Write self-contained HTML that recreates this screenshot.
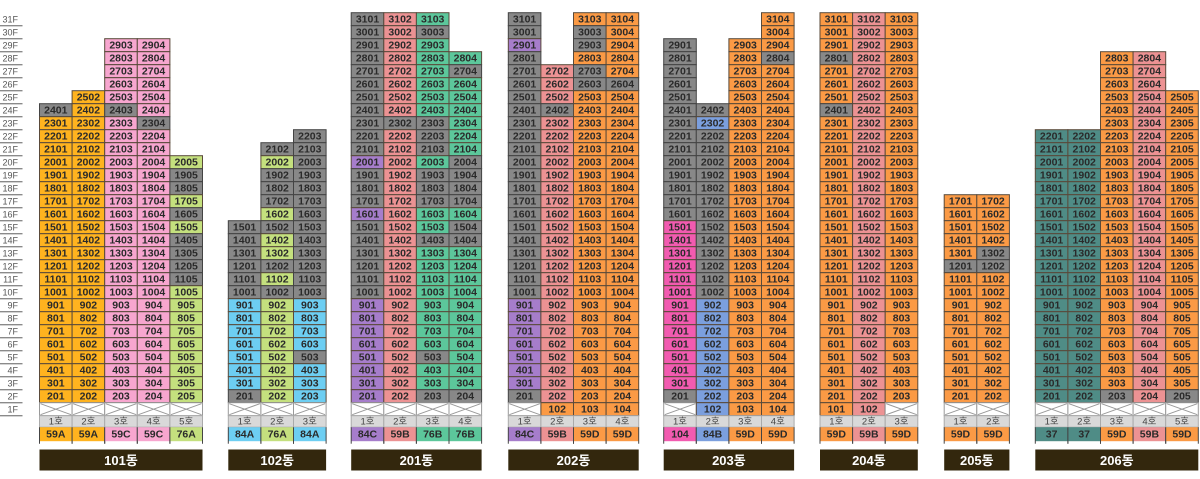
<!DOCTYPE html>
<html><head><meta charset="utf-8">
<style>
html,body{margin:0;padding:0;background:#fff;}
svg{display:block;}
text{font-family:"Liberation Sans","Noto Sans CJK KR",sans-serif;}
</style></head>
<body>
<svg id="chart" width="1200" height="479" viewBox="0 0 1200 479" xmlns="http://www.w3.org/2000/svg"></svg>
<script>
const buildingNames = ['101동','102동','201동','202동','203동','204동','205동','206동'];
const buildingX = [39.5, 228.3, 351.2, 508.3, 663.7, 820, 944.2, 1035.3];
const buildingCols = [5,3,4,4,4,3,2,5];
const buildingTop = [29,22,31,31,31,31,17,28];
const colorGrids = [
 ['..PP.','..PP.','..PP.','..PP.','.OPP.','GOGP.','OOPG.','OOPP.','OOPP.','OOPPL','OOPPG','OOPPG','OOPPL','OOPPG','OOPPL','OOPPG','OOPPG','OOPPG','OOPPG','OOPPL','OOPPL','OOPPL','OOPPL','OOPPL','OOPPL','OOPPL','OOPPL','OOPPL'],
 ['..G','.GG','.LG','.GG','.GG','.GG','.LG','GGG','GLG','GLG','GGG','GLG','GGG','BLB','BLB','BLB','BLB','BLG','BLB','BLB','GLB'],
 ['GST.','GSG.','GST.','GSTT','GSTG','GSTT','GSTT','GSTT','GGGT','GSGT','GSGT','VSTG','GSGG','GSGG','GSGG','VSTT','GSTG','GSGG','GSTT','GSTT','GSTT','GSTT','VSTT','VSTT','VSTT','VSTT','VSGT','VSTT','VSTT','VSGG'],
 ['G.RR','G.GR','V.GR','G.RR','GSGR','GSGG','GSRR','GGRR','GSRR','GSRR','GSRR','GSRR','GSRR','GSRR','GSRR','GSRR','GSRR','GSRR','GSRR','GSRR','GSRR','GSRR','VSRR','VSRR','VSRR','VSRR','VSRR','VSRR','VSRR','GSRR'],
 ['...R','...R','G.RR','G.RG','G.RR','G.RR','G.RR','GGRR','GURR','GGRR','GGRR','GGRR','GGRR','GGRR','GGRR','GGRR','MGRR','MGRR','MGRR','MGRR','MGRR','MGRR','MURR','MURR','MURR','MURR','MURR','MURR','MURR','GURR'],
 ['RSR','RSR','RSR','GSR','RSR','RSR','RSR','GSR','RSR','RSR','RSR','RSR','RSR','RSR','RSR','RSR','RSR','RSR','RSR','RSR','RSR','RSR','RSR','RSR','RSR','RSR','RSR','RSR','RSR','RSR'],
 ['RR','RR','RR','RR','RG','GG','RR','RR','RR','RR','RR','RR','RR','RR','RR','RR'],
 ['..RS.','..RS.','..RS.','..RSR','..RSR','..RSR','DDRSR','DDRSR','DDRSR','DDRSR','DDRSR','DDRSR','DDRSR','DDRSR','DDRSR','DDRSR','DDRSR','DDRSR','DDRSR','DDRSR','DDRSR','DDRSR','DDRSR','DDRSR','DDRSR','DDRSR','DDGSG']
];
const groundRows = ['XXXXX','XXX','XXXX','XRRR','XURR','RSX','XX','XXXXX'];
const unitTypes = [['59A','59A','59C','59C','76A'],['84A','76A','84A'],['84C','59B','76B','76B'],['84C','59B','59D','59D'],['104','84B','59D','59D'],['59D','59B','59D'],['59D','59D'],['37','37','59D','59B','59D']];
const typeColors = ['OOPPL','BLB','VSTT','VSRR','MURR','RSR','RR','DDRSR'];
const floorLabels = ['31F','30F','29F','28F','27F','26F','25F','24F','23F','22F','21F','20F','19F','18F','17F','16F','15F','14F','13F','12F','11F','10F','9F','8F','7F','6F','5F','4F','3F','2F','1F'];

const palette = {O:'#FFB31F',P:'#F7A6CF',G:'#888888',L:'#C4E07E',B:'#6DCEF2',T:'#5CC79B',V:'#A67DCB',S:'#EC9293',R:'#FB9A45',M:'#F25BB0',U:'#7B9FDE',D:'#4F8C86'};
const NS='http://www.w3.org/2000/svg';
const svg=document.getElementById('chart');
const colW=32.6, rowH=13;
function yOfFloor(f){ return 38.7 + (29-f)*rowH; }
function mk(tag, attrs, parent){ const e=document.createElementNS(NS,tag); for(const k in attrs) e.setAttribute(k,attrs[k]); (parent||svg).appendChild(e); return e; }

const axis=mk('g',{});


floorLabels.forEach((lab,i)=>{
  const f=31-i; const y=yOfFloor(f);
  const t=mk('text',{x:18,y:y+7,'text-anchor':'end','dominant-baseline':'central','font-size':'9','fill':'#555'},axis);
  t.textContent=lab;
  
  
  mk('line',{x1:0,x2:22.5,y1:y+rowH,y2:y+rowH,stroke:'#8a8a8a','stroke-width':'1.3'},axis);
});

buildingNames.forEach((name,b)=>{
  const g=mk('g',{});
  
  
  const x0=buildingX[b], nc=buildingCols[b], top=buildingTop[b];
  colorGrids[b].forEach((row,ri)=>{
    const f=top-ri;
    for(let c=0;c<nc;c++){
      const ch=row[c]; if(ch==='.') continue;
      const x=x0+c*colW, y=yOfFloor(f);
      const cell=mk('g',{},g);
      
      
      mk('rect',{x:x,y:y,width:colW,height:rowH,fill:palette[ch],stroke:ch==='G'?'#444':'#5a4a3a','stroke-width':'1'},cell);
      const t=mk('text',{x:x+colW/2,y:y+rowH/2+0.5,'text-anchor':'middle','dominant-baseline':'central','font-size':'10.5','font-weight':'bold','fill':'#2a2a2a'},cell);
      t.textContent=f+String(c+1).padStart(2,'0');
    }
  });
  const gy=yOfFloor(1);
  for(let c=0;c<nc;c++){
    const ch=groundRows[b][c]; const x=x0+c*colW;
    const cell=mk('g',{},g);
    if(ch==='X'){
      
      
      mk('rect',{x:x,y:gy,width:colW,height:rowH,fill:'#fff',stroke:'#999','stroke-width':'1'},cell);
      mk('path',{d:`M${x+1} ${gy+1}L${x+colW-1} ${gy+rowH-1}M${x+colW-1} ${gy+1}L${x+1} ${gy+rowH-1}`,stroke:'#999','stroke-width':'1',fill:'none'},cell);
    } else {
      
      
      mk('rect',{x:x,y:gy,width:colW,height:rowH,fill:palette[ch],stroke:'#5a4a3a','stroke-width':'1'},cell);
      const t=mk('text',{x:x+colW/2,y:gy+rowH/2+0.5,'text-anchor':'middle','dominant-baseline':'central','font-size':'10.5','font-weight':'bold','fill':'#2a2a2a'},cell);
      t.textContent='1'+String(c+1).padStart(2,'0');
    }
    const hy=gy+rowH;
    const ho=mk('g',{},g);
    
    
    mk('rect',{x:x,y:hy,width:colW,height:11.5,fill:'#D9D9D9',stroke:'#aaa','stroke-width':'1'},ho);
    const ht=mk('text',{x:x+colW/2,y:hy+6.2,'text-anchor':'middle','dominant-baseline':'central','font-size':'9.5','fill':'#444'},ho);
    ht.textContent=(c+1)+'호';
    const ty=hy+11.5;
    const tc=typeColors[b][c];
    const tp=mk('g',{},g);
    
    
    mk('rect',{x:x,y:ty,width:colW,height:14,fill:palette[tc],stroke:'none'},tp);
    mk('line',{x1:x,x2:x,y1:ty,y2:ty+16.5,stroke:'#444','stroke-width':'1'},tp);
    mk('line',{x1:x+colW,x2:x+colW,y1:ty,y2:ty+16.5,stroke:'#444','stroke-width':'1'},tp);
    const tt=mk('text',{x:x+colW/2,y:ty+7.3,'text-anchor':'middle','dominant-baseline':'central','font-size':'10.5','font-weight':'bold','fill':'#2a2a2a'},tp);
    tt.textContent=unitTypes[b][c];
  }
  const bar=mk('g',{},g);
  
  
  mk('rect',{x:x0,y:449.5,width:nc*colW,height:21,fill:'#33270D'},bar);
  const bt=mk('text',{x:x0+nc*colW/2,y:460.5,'text-anchor':'middle','dominant-baseline':'central','font-size':'13','font-weight':'bold','fill':'#fff'},bar);
  bt.textContent=name;
});
</script>
</body></html>
